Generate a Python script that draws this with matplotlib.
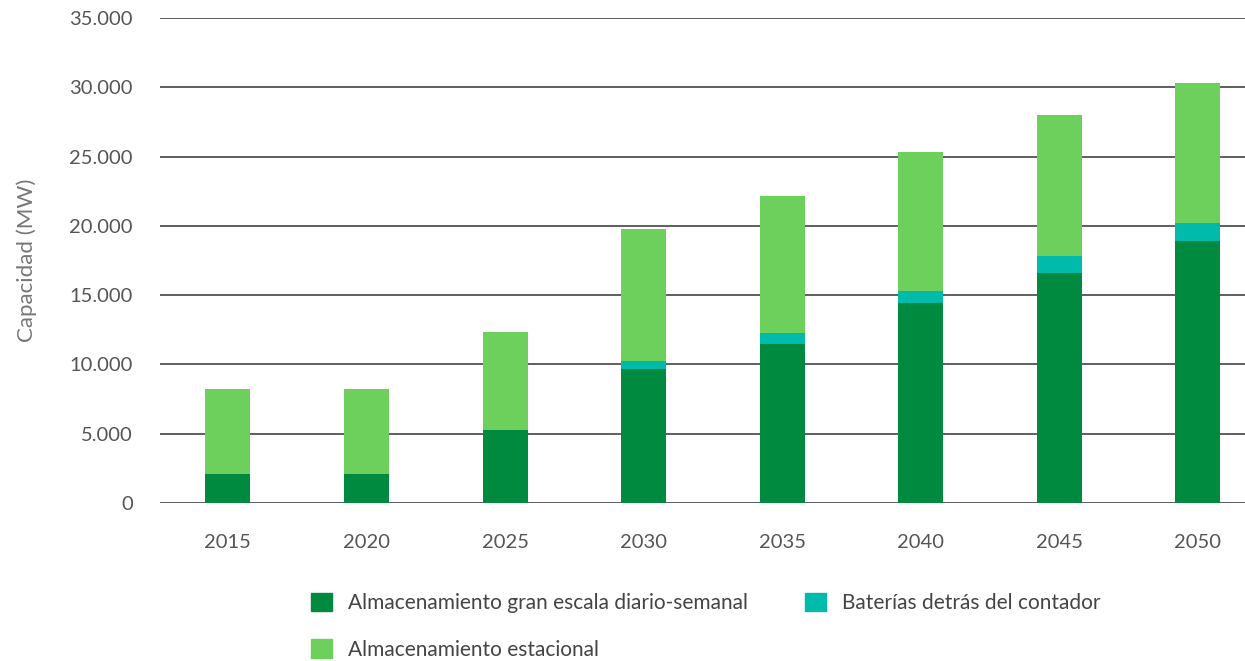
import numpy as np
import matplotlib.pyplot as plt
from matplotlib.patches import Patch

# Capacidad de almacenamiento (MW) por año
years = ['2015', '2020', '2025', '2030', '2035', '2040', '2045', '2050']
gran_escala = [2100, 2100, 5270, 9670, 11470, 14410, 16570, 18880]
baterias = [0, 0, 0, 550, 800, 910, 1250, 1350]
estacional = [6150, 6150, 7080, 9550, 9860, 9980, 10200, 10100]

labels = ['Almacenamiento gran escala diario-semanal',
          'Baterías detrás del contador',
          'Almacenamiento estacional']
colors = ['#008A40', '#00BBAA', '#6DCF5C']

plt.rcParams['font.family'] = ['Lato', 'DejaVu Sans']

fig = plt.figure(figsize=(12.45, 6.61), dpi=100)
ax = fig.add_axes([160 / 1245, 158 / 661, 1 - 160 / 1245, 485 / 661])

x = np.arange(len(years))
w = 0.325
b1 = np.array(gran_escala)
b2 = b1 + np.array(baterias)
ax.bar(x, gran_escala, w, color=colors[0], zorder=3)
ax.bar(x, baterias, w, bottom=b1, color=colors[1], zorder=3)
ax.bar(x, estacional, w, bottom=b2, color=colors[2], zorder=3)

ax.set_ylim(0, 35000)
ax.set_xlim(-0.49, 7.34)
yt = np.arange(0, 35001, 5000)
ax.set_yticks(yt)
ax.set_yticklabels([f'{v:,}'.replace(',', '.') for v in yt])
ax.set_xticks(x)
ax.set_xticklabels(years)
ax.grid(axis='y', color='#333333', linewidth=1.1, zorder=0)
for s in ax.spines.values():
    s.set_visible(False)
ax.tick_params(axis='both', length=0, labelsize=14.5, labelcolor='#555555')
ax.tick_params(axis='y', pad=19.5)
ax.tick_params(axis='x', pad=22.5)
ax.set_ylabel('Capacidad (MW)', fontsize=16, color='#777777')
ax.yaxis.set_label_coords(-0.113, 0.5)

handles = [Patch(color=colors[0]), Patch(color=colors[2]), Patch(color=colors[1])]
fig.legend(handles, [labels[0], labels[2], labels[1]], ncol=2,
           loc='upper left', bbox_to_anchor=(292 / 1245, 1 - 574 / 661),
           frameon=False, fontsize=15, labelcolor='#444444',
           handlelength=1.0, handleheight=1.0, columnspacing=2.75,
           handletextpad=0.77, labelspacing=1.25)

fig.savefig('out.png', dpi=100)
